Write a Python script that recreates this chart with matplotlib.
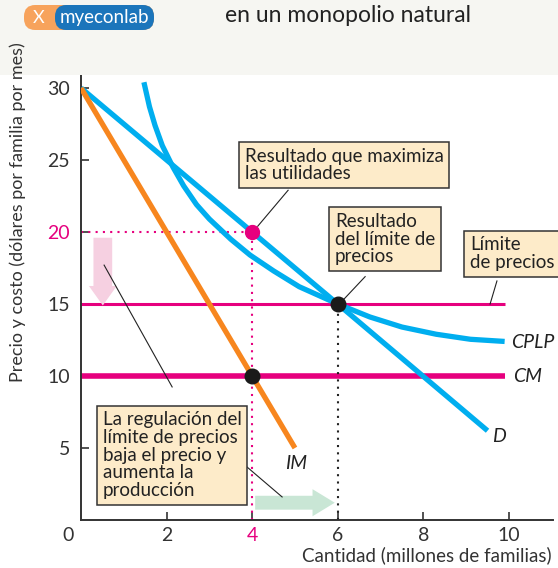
import matplotlib
matplotlib.use("Agg")
import matplotlib.pyplot as plt
from matplotlib.patches import FancyArrowPatch, FancyBboxPatch, Rectangle

plt.rcParams['font.family'] = ['Lato', 'DejaVu Sans']

# curves
q_demand = [0, 4, 6, 9.5]
p_demand = [30, 20, 15, 6.2]
q_mr = [0, 4, 5]
p_mr = [30, 10, 5]
q_lrac = [1.47, 1.6, 1.73, 1.9, 2.15, 2.4, 2.7, 3.0, 3.5, 3.95, 4.5, 5.1, 6.0, 6.75, 7.5, 8.3, 9.1, 9.9]
p_lrac = [30.4, 28.7, 27.4, 26.0, 24.5, 23.2, 21.9, 20.9, 19.5, 18.4, 17.3, 16.2, 15.0, 14.1, 13.4, 12.9, 12.55, 12.4]
q_mc = [0, 9.9]
p_mc = [10, 10]
q_cap = [0, 9.9]
p_cap = [15, 15]

q_monopoly, p_monopoly = 4, 20
q_regulated, p_regulated = 6, 15
mc_at_monopoly = 10

xticks = [2, 4, 6, 8, 10]
yticks = [5, 10, 15, 20, 25, 30]

BLUE = '#00aeef'
ORANGE = '#f7861e'
MAGENTA = '#e6007e'
BOX = '#fdebc9'
DARK = '#333333'
TXT = '#222222'

fig = plt.figure(figsize=(5.58, 5.68), dpi=100)
fig.patch.set_facecolor('white')

# light top band and logo
fig.patches.append(Rectangle((0, 1 - 75 / 568), 1, 75 / 568, transform=fig.transFigure,
                             facecolor='#f6f6f2', edgecolor='none', zorder=0))
fig.patches.append(FancyBboxPatch((24 / 558, 1 - 30 / 568), 130 / 558, 25 / 568,
                                  boxstyle='round,pad=0,rounding_size=0.02',
                                  transform=fig.transFigure, facecolor='#f7a35c',
                                  edgecolor='none', zorder=1))
fig.patches.append(FancyBboxPatch((55 / 558, 1 - 30 / 568), 99 / 558, 25 / 568,
                                  boxstyle='round,pad=0,rounding_size=0.02',
                                  transform=fig.transFigure, facecolor='#1b75bb',
                                  edgecolor='none', zorder=1))
fig.text(39 / 558, 1 - 18 / 568, 'X', color='white', fontsize=13, ha='center', va='center')
fig.text(104 / 558, 1 - 18 / 568, 'myeconlab', color='white', fontsize=13.5,
         ha='center', va='center')
fig.text(348 / 558, 1 - 16 / 568, 'en un monopolio natural', fontsize=16.5,
         ha='center', va='center', color=TXT)

ax = fig.add_axes([81 / 558, 1 - 520 / 568, 472 / 558, 468 / 568])
ax.patch.set_alpha(0)
ax.set_xlim(0, 11.03)
ax.set_ylim(0, 32.5)

for side in ['top', 'right']:
    ax.spines[side].set_visible(False)
for side in ['left', 'bottom']:
    ax.spines[side].set_color(DARK)
    ax.spines[side].set_linewidth(1.4)

ax.set_xticks(xticks)
ax.set_yticks(yticks)
ax.tick_params(direction='in', length=6, width=1.2, color=DARK, labelcolor=DARK, labelsize=14)
ax.tick_params(axis='y', pad=8)
ax.tick_params(axis='x', pad=5)
ax.get_yticklabels()[yticks.index(p_monopoly)].set_color(MAGENTA)
ax.get_xticklabels()[xticks.index(q_monopoly)].set_color(MAGENTA)
ax.text(-0.3, -1.1, '0', fontsize=14, color=DARK, ha='center', va='center', clip_on=False)

# price cap and marginal cost
ax.plot(q_cap, p_cap, color=MAGENTA, lw=2.2, solid_capstyle='butt', zorder=2)
ax.plot(q_mc, p_mc, color=MAGENTA, lw=4, solid_capstyle='butt', zorder=2)

# dotted guides
ax.plot([0, q_monopoly], [p_monopoly, p_monopoly], color=MAGENTA, lw=1.5, ls=(0, (1, 2.5)), zorder=2)
ax.plot([q_monopoly, q_monopoly], [0, p_monopoly], color=MAGENTA, lw=1.5, ls=(0, (1, 2.5)), zorder=2)
ax.plot([q_regulated, q_regulated], [0, p_regulated], color=TXT, lw=1.5, ls=(0, (1, 2.5)), zorder=2)

# curves
ax.plot(q_lrac, p_lrac, color=BLUE, lw=3.8, solid_capstyle='butt', solid_joinstyle='round', zorder=3)
ax.plot(q_demand, p_demand, color=BLUE, lw=3.8, solid_capstyle='butt', zorder=3)
ax.plot(q_mr, p_mr, color=ORANGE, lw=3.8, solid_capstyle='butt', zorder=3)

# points
ax.plot(q_monopoly, p_monopoly, 'o', color=MAGENTA, ms=10, zorder=5)
ax.plot(q_regulated, p_regulated, 'o', color='#1a1a1a', ms=10.5, zorder=5)
ax.plot(q_monopoly, mc_at_monopoly, 'o', color='#1a1a1a', ms=10.5, zorder=5)

# arrows
ax.add_patch(FancyArrowPatch((0.51, 19.6), (0.51, 14.9), shrinkA=0, shrinkB=0,
                             arrowstyle='simple,head_length=14,head_width=20,tail_width=13.5',
                             mutation_scale=1, color='#f6d0e1', lw=0, zorder=2))
ax.add_patch(FancyArrowPatch((4.07, 1.2), (5.93, 1.2), shrinkA=0, shrinkB=0,
                             arrowstyle='simple,head_length=16,head_width=19.5,tail_width=10',
                             mutation_scale=1, color='#c9e6d5', lw=0, zorder=2))

# curve labels
ax.text(10.05, 12.3, 'CPLP', style='italic', fontsize=14, color=TXT, va='center')
ax.text(10.1, 9.95, 'CM', style='italic', fontsize=14, color=TXT, va='center')
ax.text(9.6, 5.8, 'D', style='italic', fontsize=14, color=TXT, va='center')
ax.text(4.77, 3.95, 'IM', style='italic', fontsize=14, color=TXT, va='center')

# boxes and leader lines
bbox = dict(boxstyle='square,pad=0.3', facecolor=BOX, edgecolor=DARK, lw=1.1)
fs_box = 13.5
ax.text(3.83, 24.65, 'Resultado que maximiza\nlas utilidades', fontsize=fs_box,
        color=TXT, va='center', ha='left', bbox=bbox, zorder=6, linespacing=1.05)
ax.text(5.93, 19.5, 'Resultado\ndel límite de\nprecios', fontsize=fs_box,
        color=TXT, va='center', ha='left', bbox=bbox, zorder=6, linespacing=1.05)
ax.text(9.09, 18.5, 'Límite\nde precios', fontsize=fs_box, clip_on=False,
        color=TXT, va='center', ha='left', bbox=bbox, zorder=6, linespacing=1.05)
ax.text(0.51, 4.5, 'La regulación del\nlímite de precios\nbaja el precio y\naumenta la\nproducción',
        fontsize=fs_box, color=TXT, va='center', ha='left', bbox=bbox, zorder=6,
        linespacing=1.05)

leaders = [((4.84, 22.9), (4.13, 20.4)),
           ((6.64, 16.9), (6.07, 15.1)),
           ((9.72, 16.6), (9.56, 15.0)),
           ((2.13, 9.24), (0.54, 17.7)),
           ((3.88, 3.68), (4.7, 1.6))]
for (x0, y0), (x1, y1) in leaders:
    ax.plot([x0, x1], [y0, y1], color=TXT, lw=0.8, zorder=4)

fig.text(18 / 558, 1 - 212 / 568, 'Precio y costo (dólares por familia por mes)',
         rotation=90, fontsize=13, color=DARK, ha='center', va='center')
fig.text(552 / 558, 1 - 555 / 568, 'Cantidad (millones de familias)', fontsize=13.5,
         color=DARK, ha='right', va='center')

fig.savefig('out.png', dpi=100)
